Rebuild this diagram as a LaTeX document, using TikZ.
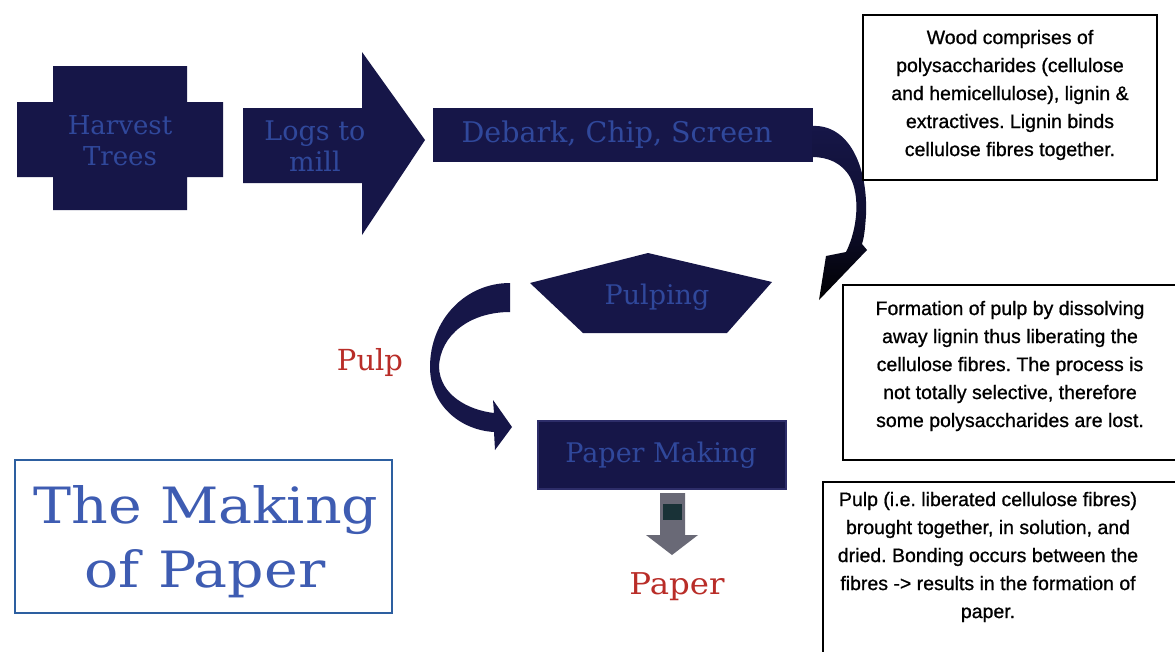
\documentclass[tikz,border=0pt]{standalone}
\usepackage{fontspec}
\usepackage{graphicx}
\setmainfont{DejaVu Serif}
\newfontfamily\boxfont[FakeBold=0.9]{Liberation Sans}
\frenchspacing
\definecolor{navy}{RGB}{22,22,72}
\definecolor{navyedge}{RGB}{45,45,105}
\definecolor{shtext}{RGB}{48,72,155}
\definecolor{lblred}{RGB}{185,45,40}
\definecolor{ttlblue}{RGB}{62,92,178}
\definecolor{ttlborder}{RGB}{45,95,160}
\definecolor{arrgray}{RGB}{105,105,118}
\definecolor{arrdark}{RGB}{25,50,55}
\begin{document}
\begin{tikzpicture}[x=1pt,y=-1pt,
  shtxt/.style={text=shtext, font=\fontsize{27}{31}\selectfont, align=center, inner sep=0pt},
  note/.style={font=\boxfont\fontsize{19.5}{28}\selectfont, align=center, text=black, inner sep=0pt},
  notebox/.style={draw=black, line width=1.6pt},
  redlbl/.style={text=lblred, font=\fontsize{29}{30}\selectfont, inner sep=0pt},
  ttl/.style={text=ttlblue, font=\fontsize{50}{50}\selectfont, inner sep=0pt}]
\useasboundingbox (0,0) rectangle (1175,651);
\clip (0,0) rectangle (1175,651);
\fill[white] (0,0) rectangle (1175,651);

% Harvest Trees (cross shape)
\fill[navy] (53,66) -- (187,66) -- (187,102) -- (223,102) -- (223,177) -- (187,177)
  -- (187,210) -- (53,210) -- (53,177) -- (17,177) -- (17,102) -- (53,102) -- cycle;
\node[shtxt, font=\fontsize{26}{31}\selectfont] (harvest) at (120,141) {Harvest\\Trees};

% Logs to mill (block arrow)
\fill[navy] (243,108) -- (362,108) -- (362,52) -- (425,140) -- (362,235) -- (362,183) -- (243,183) -- cycle;
\node[shtxt] (logs) at (315,146) {Logs to\\mill};

% Debark, Chip, Screen
\fill[navy] (433,108) rectangle (813,162);
\node[shtxt, font=\fontsize{28.5}{31}\selectfont] (debark) at (617,135) {Debark, Chip, Screen};

% curved arrow Debark -> Pulping
\shade[top color=navy, bottom color=black, middle color=navy!70!black]
  (812,126) .. controls (848,124) and (868,165) .. (866,215)
  .. controls (865,230) and (864,238) .. (862,244)
  -- (867,250) -- (819,300) -- (826,256) -- (846,252)
  .. controls (858,228) and (860,195) .. (850,177)
  .. controls (842,163) and (828,157) .. (812,157) -- cycle;

% Pulping (pentagon)
\fill[navy] (648,253) -- (772,282) -- (727,333) -- (583,333) -- (530,283) -- cycle;
\node[shtxt] (pulping) at (657,297) {Pulping};

% curved arrow Pulping -> Paper Making
\fill[navy] (510,283) .. controls (465,283) and (430,320) .. (430,367)
  .. controls (430,405) and (460,430) .. (494,432)
  -- (495,450) -- (512,427) -- (493,400) -- (494,413)
  .. controls (468,410) and (440,395) .. (439,367)
  .. controls (440,335) and (470,312) .. (510,312) -- cycle;
\node[redlbl] (pulp) at (370,362) {Pulp};

% Paper Making
\fill[navy] (537,420) rectangle (787,490);
\draw[navyedge, line width=1.2pt] (538,421) rectangle (786,489);
\node[shtxt] (papermaking) at (661,455) {Paper Making};

% down arrow
\fill[arrgray] (660,493) -- (685,493) -- (685,535) -- (698,535) -- (672,555) -- (646,535) -- (660,535) -- cycle;
\fill[arrdark] (663,504) rectangle (682,520);
\node[redlbl, font=\fontsize{30}{30}\selectfont] (paper) at (677,587) {\scalebox{1.08}[1]{Paper}};

% Title
\draw[ttlborder, line width=1.5pt] (15,460) rectangle (392,613);
\node[ttl, anchor=base] (title1) at (206,523) {\scalebox{1.14}[1]{The Making}};
\node[ttl, anchor=base] (title2) at (205,587) {\scalebox{1.14}[1]{of Paper}};

% Note boxes
\draw[notebox] (863,15) rectangle (1157,180);
\node[note] (wood) at (1010,95) {Wood comprises of\\polysaccharides (cellulose\\and hemicellulose), lignin \&\\extractives. Lignin binds\\cellulose fibres together.};

\draw[notebox] (1180,285) -- (843,285) -- (843,460) -- (1180,460);
\node[note] (formation) at (1010,366) {Formation of pulp by dissolving\\away lignin thus liberating the\\cellulose fibres. The process is\\not totally selective, therefore\\some polysaccharides are lost.};

\draw[notebox] (1180,482) -- (823,482) -- (823,660);
\node[note] (pulpnote) at (988,557) {Pulp (i.e. liberated cellulose fibres)\\brought together, in solution, and\\dried. Bonding occurs between the\\fibres -> results in the formation of\\paper.};
\end{tikzpicture}
\end{document}
